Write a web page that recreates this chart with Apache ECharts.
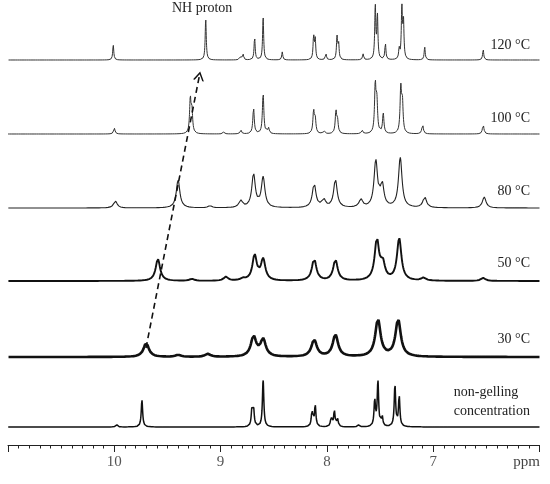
<!DOCTYPE html>
<html>
<head>
<meta charset="utf-8">
<script src="https://cdn.jsdelivr.net/npm/echarts@6/dist/echarts.min.js"></script>
<style>
html, body { margin: 0; padding: 0; background: #fff; }
#container { width: 550px; height: 484px; }
</style>
</head>
<body>
<div id="container"></div>
<script>
// peak lists (ppm, height)
var tickLabels = [10, 9, 8, 7];
var spectrumNames = ['120 °C', '100 °C', '80 °C', '50 °C', '30 °C', 'non-gelling\nconcentration'];

var ppm120 = [10.01, 9.14, 8.82, 8.79, 8.68, 8.60, 8.42, 8.125, 8.11, 8.01, 7.905, 7.89, 7.66, 7.545, 7.525, 7.45, 7.32, 7.295, 7.28, 7.08, 6.53];
var int120 = [15, 41, 3, 7, 23, 43, 8, 24, 20, 7, 23, 16, 6, 53, 44, 17, 10, 51, 38, 13, 11];

var ppm100 = [10.00, 9.285, 9.27, 8.97, 8.81, 8.69, 8.60, 8.55, 8.125, 8.11, 8.03, 7.915, 7.90, 7.67, 7.545, 7.53, 7.47, 7.305, 7.29, 7.10, 6.53];
var int100 = [6, 34, 22, 2, 4, 26, 41, 6, 22, 14, 4, 22, 12, 4, 48, 30, 20, 44, 30, 10, 10];

var ppm80 = [9.99, 9.40, 9.10, 8.81, 8.69, 8.60, 8.12, 8.03, 7.92, 7.68, 7.54, 7.48, 7.31, 7.08, 6.52];
var int80 = [7, 28, 2, 7, 33, 30, 24, 8, 28, 8, 46, 22, 50, 11, 11];

var ppm50 = [9.59, 9.27, 8.95, 8.79, 8.68, 8.60, 8.12, 7.92, 7.53, 7.475, 7.32, 7.09, 6.53];
var int50 = [22, 2, 4, 2, 25, 21, 22, 21, 40, 16, 42, 3, 3];

var ppm30 = [9.70, 9.40, 9.12, 8.69, 8.60, 8.12, 7.92, 7.52, 7.33];
var int30 = [14, 2, 3, 20, 17, 17, 22, 37, 37];

var ppmNG = [9.98, 9.74, 8.705, 8.69, 8.60, 8.14, 8.11, 7.96, 7.93, 7.90, 7.70, 7.55, 7.52, 7.48, 7.36, 7.32];
var intNG = [3, 27, 17, 17, 47, 16, 22, 9, 16, 8, 2, 26, 45, 10, 42, 31];

var dom = document.getElementById("container");
var myChart = echarts.init(dom);
var option = null;

// stacking offset and line broadening per trace (layout / style)
var traces = [
    { ppm: ppm120, h: int120, offset: 385, hw: 0.006, lw: 1, color: '#333' },
    { ppm: ppm100, h: int100, offset: 311, hw: 0.008, lw: 1, color: '#333' },
    { ppm: ppm80, h: int80, offset: 237, hw: 0.02, lw: 1.1, color: '#222' },
    { ppm: ppm50, h: int50, offset: 164, hw: 0.025, lw: 1.9, color: '#111' },
    { ppm: ppm30, h: int30, offset: 88, hw: 0.03, lw: 2.6, color: '#111' },
    { ppm: ppmNG, h: intNG, offset: 18, hw: 0.008, lw: 1.5, color: '#111' }
];

// lorentzian line shape for each listed peak
function spectrum(t) {
    var pts = [];
    for (var i = 0; i <= 5000; i++) {
        var x = 6 + i * 0.001;
        var y = 0;
        for (var k = 0; k < t.ppm.length; k++) {
            var d = (x - t.ppm[k]) / t.hw;
            y += t.h[k] / (1 + d * d);
        }
        pts.push([x, t.offset + y]);
    }
    return pts;
}

var serif = 'Liberation Serif';
var series = traces.map(function (t, i) {
    var s = {
        name: spectrumNames[i],
        type: 'line',
        data: spectrum(t),
        showSymbol: false,
        silent: true,
        clip: false,
        lineStyle: { color: t.color, width: t.lw },
        z: 2
    };
    if (i == 0) {
        s.markLine = {
            silent: true,
            symbol: ['none', 'path://M0,10 L6,0 L12,10 L10.2,10 L6,3 L1.8,10 Z'],
            symbolSize: [11, 9],
            label: { show: false },
            lineStyle: { type: [6, 4], width: 1.6, color: '#111' },
            data: [[{ coord: [9.702, 97] }, { coord: [9.20, 369] }]]
        };
    }
    return s;
});

var labelY = [44, 117, 190, 262, 338, 401];
var graphic = spectrumNames.map(function (n, i) {
    return {
        type: 'text', right: 20, top: labelY[i] - (i == 5 ? 18 : 8),
        style: { text: n, font: '14px "' + serif + '"', fill: '#222', align: 'right', lineHeight: 19 }
    };
});
graphic.push({ type: 'text', left: 172, top: 1, style: { text: 'NH proton', font: '14px "' + serif + '"', fill: '#222' } });
graphic.push({ type: 'text', right: 10, top: 455, style: { text: 'ppm', font: '15px "' + serif + '"', fill: '#444' } });

option = {
    animation: false,
    backgroundColor: '#fff',
    grid: { left: 8, right: 10.5, top: 0, bottom: 39 },
    xAxis: {
        type: 'value',
        min: 6,
        max: 11,
        interval: 1,
        inverse: true,
        axisLine: { lineStyle: { color: '#222', width: 1 } },
        axisTick: { length: 7, lineStyle: { color: '#222' } },
        minorTick: { show: true, splitNumber: 10, length: 3.5, lineStyle: { color: '#222' } },
        splitLine: { show: false },
        axisLabel: {
            margin: 10,
            color: '#555',
            fontFamily: serif,
            fontSize: 15,
            formatter: function (v) {
                return tickLabels.indexOf(v) >= 0 ? String(v) : '';
            }
        }
    },
    yAxis: { type: 'value', min: 0, max: 445, show: false },
    graphic: graphic,
    series: series
};

if (option && typeof option === "object") {
    myChart.setOption(option, true);
}
</script>
</body>
</html>
